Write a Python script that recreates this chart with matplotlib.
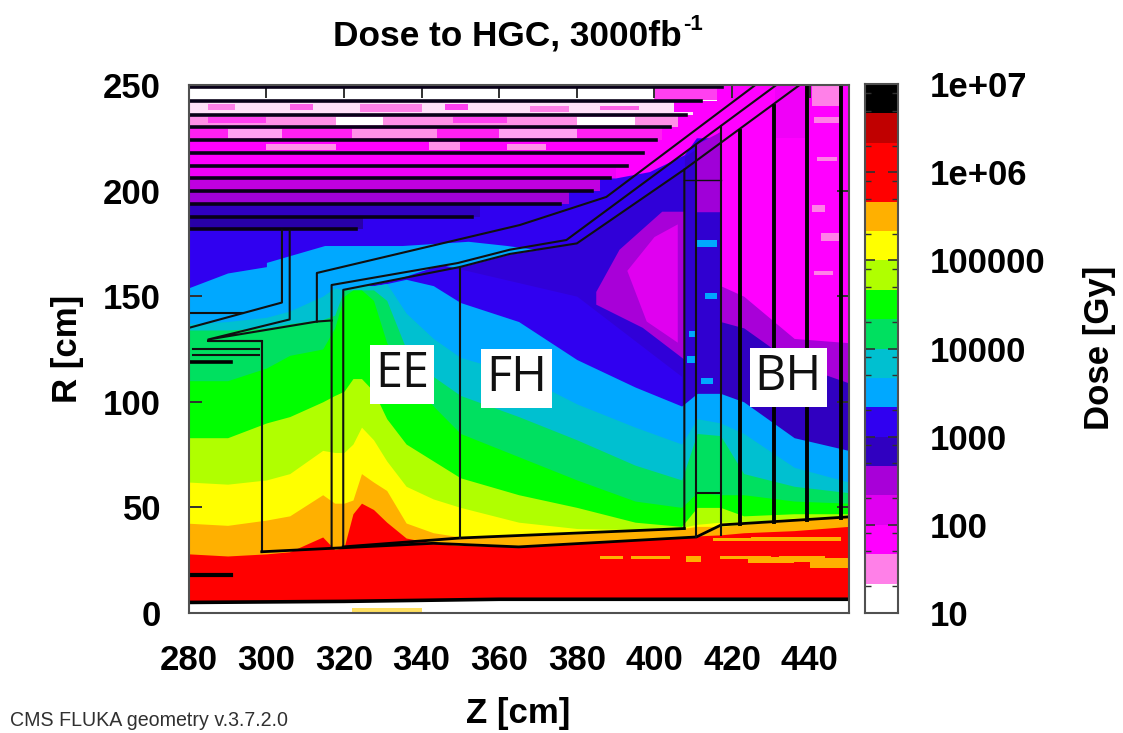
import numpy as np
import matplotlib
matplotlib.use("Agg")
import matplotlib.pyplot as plt
from matplotlib.ticker import NullFormatter

plt.rcParams['font.family'] = ['Liberation Sans', 'DejaVu Sans']

# colour bands of the dose scale, low to high
band_colors = ['#ffffff', '#ff80e8', '#ff00ff', '#e000f0', '#a800d8', '#3000c0',
               '#3000f0', '#00a8ff', '#00c0d0', '#00e060', '#00ff00', '#b0ff00',
               '#ffff00', '#ffb000', '#ff0000', '#ff0000', '#c00000', '#000000']
cbar_ticks = [10, 100, 1000, 10000, 100000, 1e6, 1e7]
cbar_labels = ['10', '100', '1000', '10000', '100000', '1e+06', '1e+07']
cbar_minor = [20, 50, 80, 200, 500, 800, 2000, 5000, 8000, 2e4, 5e4, 8e4,
              2e5, 5e5, 8e5, 2e6, 5e6, 8e6]
x_ticks = [280, 300, 320, 340, 360, 380, 400, 420, 440]
y_ticks = [0, 50, 100, 150, 200, 250]

# upper R of each dose band, read at these Z columns
z_stops = [280, 290, 300, 306, 314.5, 317.6, 320, 322.3, 324.5, 327.6, 331, 336, 343, 350,
           365, 380, 395, 407, 411, 417, 423, 436, 450]
azure_top = [154, 161, 164, 166, 170, 172, 153.5, 154, 155, 155, 156, 158, 155, 147,
             138, 120, 107, 98, 104, 104, 100, 83, 77]
teal_top = [137, 138, 140, 143, 150, 154, 153, 154, 155, 155, 156, 142, 130, 121,
            113, 99, 88, 80, 92, 90, 85, 69, 62]
seagreen_top = [134, 134, 135, 137, 139, 141, 153, 153, 153, 153, 148, 125, 112, 103,
                93, 82, 70, 63, 85, 84, 66, 60, 57]
green_top = [110, 110, 116, 122, 125, 135, 150, 153, 153, 148, 128, 112, 98, 85,
             74, 63, 53, 50, 57, 56, 56, 53, 52]
lime_top = [83, 83, 90, 93, 100, 103, 105, 111, 111, 105, 92, 80, 72, 64,
            56, 50, 43, 41, 50, 50, 46, 47, 47]
yellow_top = [62, 61, 63, 66, 77, 76, 76, 80, 88, 82, 72, 60, 54, 50,
              43, 40, 39.5, 40.5, 42, 43, 43, 45, 46]
orange_top = [42.5, 41.5, 44, 46, 56, 52, 52, 53.5, 66, 62, 58, 42.6, 38, 36,
              36.5, 37.5, 39, 40, 41, 41, 42, 44, 45.5]
red_top = [28, 27, 28, 29, 36, 30, 31, 47, 52, 49, 43, 35.5, 33, 32,
           31.5, 33, 34.5, 36, 36.5, 37, 38, 39, 41]

# azure above the envelope, between the cryostat lines
outer_azure_z = [300, 315, 335, 352, 362, 370]
outer_azure_r = [166, 174, 174, 176, 174, 172]

# blue field upper edge (stripes and cryostat band end here)
blue_edge_z = [280, 325, 355, 378, 386, 390, 398.7, 407.7, 410.8, 417]
blue_edge_r = [188, 188, 194, 200, 206, 206, 209, 217, 225, 225]

# horizontal stripes at the top: lower R, upper R, end Z, colour
stripe_lo = [181.8, 187.6, 193.7, 200, 206, 211.6, 218, 224, 230, 236, 242.5]
stripe_hi = [187.6, 193.7, 200, 206, 211.6, 218, 224, 230, 236, 242.5, 250]
stripe_end = [325, 355, 378, 386, 390, 395, 399, 402, 406, 410, 416]
stripe_col = ['#2800a8', '#3000c0', '#a000d8', '#c000e0', '#f000f8', '#ff00ff',
              '#ff00ff', '#ff20f0', '#ff90e8', '#ffe0f8', '#ffffff']
stripe_line_r = [181.8, 187.6, 193.7, 200, 206, 211.6, 218, 224, 230, 236, 242.5, 249]
stripe_line_end = [323, 353, 375.6, 384, 388.5, 392.8, 397, 400.5, 404, 408, 412, 417.5]

# light and dark specks in the stripes: z start, z end, R low, R high, colour
speck_z0 = [285, 306, 324, 346, 368, 386, 285, 318, 348, 380, 290, 322, 360, 300, 342, 362, 400, 405]
speck_z1 = [292, 312, 340, 352, 378, 396, 300, 330, 362, 395, 304, 344, 380, 318, 350, 372, 416, 416]
speck_r0 = [238, 238, 237, 238, 237, 238, 232, 231, 232, 231, 225, 225, 225, 219, 219, 219, 243, 237]
speck_r1 = [241, 241, 241, 241, 240, 240, 235, 235, 235, 235, 229, 229, 229, 222, 223, 222, 249, 242]
speck_c = ['#ff80e8', '#ff60e8', '#ff80e8', '#ff40f0', '#ff80e8', '#ff60e8',
           '#ff40f0', '#ffffff', '#ff40f0', '#ffffff', '#ffa0f0', '#ff90e8', '#ffa0f0',
           '#ff90e8', '#ff90e8', '#ff90e8', '#ff40f0', '#ff00ff']

# purple island and its magenta core in the FH top corner
island_z = [385, 391, 402, 407.7, 407.7, 397, 385]
island_r = [152, 172, 190, 190, 120, 135, 146]
core_z = [393, 400, 406, 406, 398]
core_r = [162, 178, 184, 128, 138]

# right columns behind the BH absorbers
rear_z = [417, 423, 436, 450]
rear_purple_top = [155, 150, 130, 128]
rear_dark_top = [138, 135, 118, 109]

# pale streaks in the last column: z start, z end, R low, R high
pale_z0 = [440.5, 441, 442, 440.5, 443, 441]
pale_z1 = [447.5, 447.5, 447, 444, 447.5, 446]
pale_r0 = [240, 232, 214, 190, 176, 160]
pale_r1 = [250, 235, 216, 193, 180, 162]

# azure specks in the columns 408-417: z start, z end, R centre
fleck_z0 = [411, 412, 409, 413, 408.5]
fleck_z1 = [416, 415, 411, 416, 410.5]
fleck_r = [175, 110, 132, 150, 120]

# orange streaks in the red: z start, z end, R low, R high
streak_z0 = [386, 394, 408, 417, 424, 432, 440, 415, 425]
streak_z1 = [392, 404, 412, 430, 436, 444, 450, 426, 448]
streak_r0 = [25.5, 25.5, 24, 25.5, 23.5, 24, 21.5, 34, 34]
streak_r1 = [27, 27, 27, 27, 26.5, 27, 26, 35.5, 36]
yellow_speck_z = [322, 340]
yellow_speck_r = [0.5, 2.5]

# geometry lines
beam_z = [280, 320, 360, 450]
beam_r = [5, 5.5, 6.5, 6.5]
env_z = [319.8, 319.8, 349.8, 362.7, 380, 407.7, 407.7]
env_r = [31.3, 153, 163.8, 170, 175, 210, 40]
line3_z = [316.8, 316.8, 349.3, 362.7, 377.3, 431.4]
line3_r = [31, 155.3, 165.7, 172, 176.6, 250]
line2_z = [313, 313, 365.3, 387.6, 426]
line2_r = [138, 161, 183.7, 197, 250]
line5_z = [407.7, 437.4]
line5_r = [210, 250]
rear1_z = [306, 306, 285, 313, 316.8]
rear1_r = [181, 139, 129.5, 138, 138.5]
rear2_z = [304, 304, 280]
rear2_r = [181, 147, 135]
ee_front_z = [298.8, 298.8, 285, 298.8]
ee_front_r = [29, 129, 129, 129]
top_line_z = [319.8, 349.8, 407.7]
top_line_r = [31.3, 35.5, 40]
low_line_z = [298.8, 343, 365, 410.8, 417.2, 450]
low_line_r = [29, 33, 31.3, 36, 41.7, 45.5]
absorber_z = [422, 430.8, 439.4, 448]
absorber_lo = [42, 43, 44, 45]
absorber_hi = [228, 240, 250, 250]
vert_z = [349.8, 410.7, 417.2]
vert_lo = [35.5, 36, 37]
vert_hi = [163.8, 221.6, 230.8]

fig = plt.figure(figsize=(11.23, 7.33), dpi=100)
ax = fig.add_axes([188.8 / 1123, 120 / 733, 659.7 / 1123, 528 / 733])

# background fields, painted from back to front
ax.fill_between([380, 450], 170, 250, color='#ff00ff', lw=0)
ax.fill_between(blue_edge_z, 0, blue_edge_r, color=band_colors[6], lw=0)
ax.fill_between(outer_azure_z, 0, outer_azure_r, color=band_colors[7], lw=0)

for lo, hi, end, col in zip(stripe_lo, stripe_hi, stripe_end, stripe_col):
    ax.fill_between([280, end], lo, hi, color=col, lw=0)
for a, b, lo, hi, col in zip(speck_z0, speck_z1, speck_r0, speck_r1, speck_c):
    ax.fill_between([a, b], lo, hi, color=col, lw=0)

# inside of the envelope
ax.fill_between(env_z[1:-1], 0, env_r[1:-1], color='#3000d8', lw=0)
ax.fill_between([320, 345, 380, 407], 0, [150, 165, 150, 112], color=band_colors[6], lw=0)
ax.fill(island_z, island_r, color='#a800d8', lw=0)
ax.fill(core_z, core_r, color='#e000f0', lw=0)

# columns behind the envelope
ax.fill_between([407.7, 417], 0, [216, 228], color='#3000d0', lw=0)
ax.fill_between([410.7, 417], 190, [222, 228], color='#a000d8', lw=0)
ax.fill_between(rear_z, 0, 250, color='#ff00ff', lw=0)
ax.fill_between(rear_z, 0, rear_purple_top, color=band_colors[4], lw=0)
ax.fill_between(rear_z, 0, rear_dark_top, color=band_colors[5], lw=0)
ax.fill_between([431, 439], 225, 250, color='#f000f8', lw=0)
for a, b, lo, hi in zip(pale_z0, pale_z1, pale_r0, pale_r1):
    ax.fill_between([a, b], lo, hi, color='#ff80e8', lw=0)
for a, b, r in zip(fleck_z0, fleck_z1, fleck_r):
    ax.fill_between([a, b], r - 1.5, r + 1.5, color=band_colors[7], lw=0)

# dose bands below, highest last
tops = [azure_top, teal_top, seagreen_top, green_top, lime_top, yellow_top, orange_top, red_top]
cols = [band_colors[i] for i in (7, 8, 9, 10, 11, 12, 13, 14)]
for top, col in zip(tops, cols):
    ax.fill_between(z_stops, 0, top, color=col, lw=0)
for a, b, lo, hi in zip(streak_z0, streak_z1, streak_r0, streak_r1):
    ax.fill_between([a, b], lo, hi, color='#ffb000', lw=0)

# white strip under the beam line
ax.fill_between(beam_z, 0, beam_r, color='white', lw=0, zorder=2)
ax.fill_between(yellow_speck_z, yellow_speck_r[0], yellow_speck_r[1], color='#ffe060', lw=0, zorder=2)
ax.plot(beam_z, beam_r, color='black', lw=2.6, zorder=3)

# detector geometry
for r, end in zip(stripe_line_r, stripe_line_end):
    ax.plot([280, end], [r, r], color='#080018', lw=2.6, zorder=3)
thin = dict(color='#101010', lw=1.5, zorder=3)
ax.plot(env_z, env_r, **thin)
ax.plot(line3_z, line3_r, **thin)
ax.plot(line2_z, line2_r, **thin)
ax.plot(line5_z, line5_r, **thin)
ax.plot(rear1_z, rear1_r, **thin)
ax.plot(rear2_z, rear2_r, **thin)
ax.plot(ee_front_z, ee_front_r, **thin)
ax.plot([280, 294], [142, 142], **thin)
ax.plot([281, 298], [125, 125], **thin)
ax.plot([281, 298], [122, 122], **thin)
ax.plot(top_line_z, top_line_r, color='black', lw=2, zorder=3)
ax.plot(low_line_z, low_line_r, color='black', lw=2, zorder=3)
for z, lo, hi in zip(vert_z, vert_lo, vert_hi):
    ax.plot([z, z], [lo, hi], **thin)
ax.plot([410.7, 417.2], [57, 57], **thin)
ax.plot([407.7, 417.2], [205, 205], color='#101010', lw=1, zorder=3)
for z, lo, hi in zip(absorber_z, absorber_lo, absorber_hi):
    ax.plot([z, z], [lo, hi], color='black', lw=2.8, zorder=3)
ax.plot([280, 291], [119, 119], color='black', lw=2.6, zorder=3)
ax.plot([280, 291], [18, 18], color='black', lw=3, zorder=3)

# region labels
box = dict(facecolor='white', edgecolor='none', pad=3.5)
for z, r, name in [(335, 113, 'EE'), (364.4, 111, 'FH'), (434.5, 111.5, 'BH')]:
    ax.text(z, r, name, fontsize=35, family='Open Sans', ha='center', va='center',
            color='#101010', bbox=box, zorder=5)

ax.set_xlim(280, 450)
ax.set_ylim(0, 250)
ax.set_xticks(x_ticks)
ax.set_yticks(y_ticks)
ax.tick_params(direction='in', length=9, width=1.4, top=True, right=True, color='#303030',
               labelsize=25, zorder=4)
ax.tick_params(axis='x', pad=22)
ax.tick_params(axis='y', pad=20)
for lab in ax.get_xticklabels() + ax.get_yticklabels():
    lab.set_fontweight('bold')
for s in ax.spines.values():
    s.set_linewidth(1.5)
    s.set_color('#505050')
    s.set_zorder(6)
ax.set_xlabel('Z [cm]', fontsize=25, fontweight='bold', labelpad=15)
ax.set_ylabel('R [cm]', fontsize=25, fontweight='bold', labelpad=14)
fig.text(682 / 1123, 1 - 36 / 733, 'Dose to HGC, 3000fb', fontsize=25.4,
         fontweight='bold', ha='right', va='center')
fig.text(683 / 1123, 1 - 25 / 733, '-1', fontsize=16, fontweight='bold', ha='left', va='center')
fig.text(10 / 1123, 1 - 721 / 733, 'CMS FLUKA geometry v.3.7.2.0', fontsize=14.1, color='#303030',
         ha='left', va='center')

# colour scale
cax = fig.add_axes([865 / 1123, 120 / 733, 33 / 1123, 529 / 733])
edges = np.logspace(1, 7, len(band_colors) + 1)
for i, col in enumerate(band_colors):
    cax.fill_between([0, 1], edges[i], edges[i + 1], color=col, lw=0)
cax.set_yscale('log')
cax.set_xlim(0, 1)
cax.set_ylim(10, 1e7)
cax.set_xticks([])
cax.yaxis.tick_right()
cax.set_yticks(cbar_ticks)
cax.set_yticklabels(cbar_labels, fontweight='bold')
cax.set_yticks(cbar_minor, minor=True)
cax.yaxis.set_minor_formatter(NullFormatter())
cax.tick_params(axis='y', which='major', direction='in', length=7, width=1.2, left=True, right=True,
                labelsize=25, pad=23, color='#303030')
cax.tick_params(axis='y', which='minor', direction='in', length=4, width=1, left=True, right=True,
                color='#303030')
for s in cax.spines.values():
    s.set_linewidth(1.5)
    s.set_color('#505050')
fig.text(1100 / 1123, 1 - 348 / 733, 'Dose [Gy]', fontsize=25, fontweight='bold', rotation=90,
         ha='center', va='center')

fig.savefig('out.png', dpi=100)
